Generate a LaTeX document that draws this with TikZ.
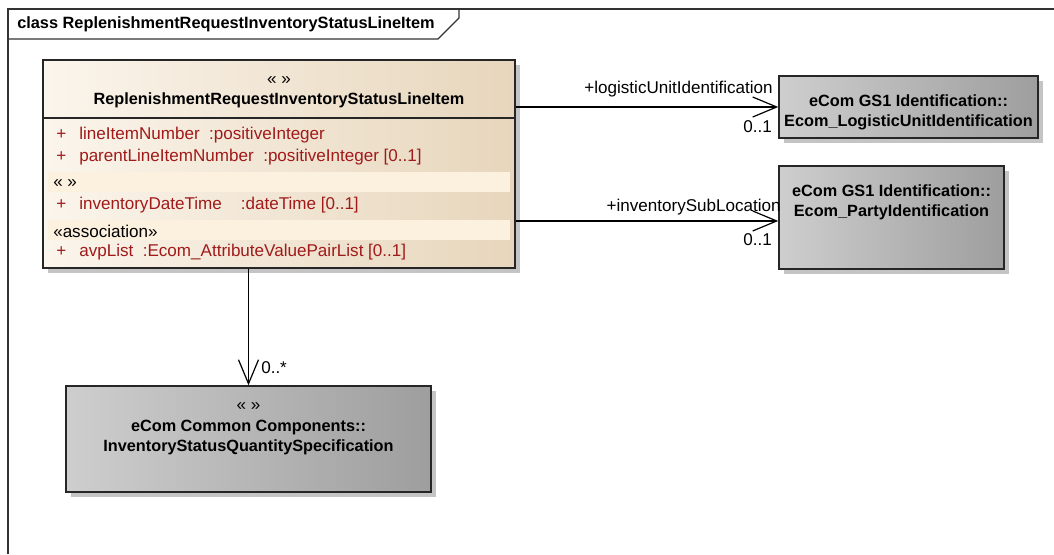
\documentclass[tikz,border=0pt]{standalone}
\usepackage{fontspec}
\setmainfont{Liberation Sans}
\usetikzlibrary{arrows.meta,shadows}
\definecolor{classL}{RGB}{251,245,236}
\definecolor{classR}{RGB}{231,214,188}
\definecolor{bandc}{RGB}{252,240,222}
\definecolor{greyL}{RGB}{206,206,206}
\definecolor{greyR}{RGB}{158,158,158}
\definecolor{attrc}{RGB}{160,26,26}
\definecolor{shadowc}{RGB}{196,196,196}
\tikzstyle{classbox}=[rectangle,draw=black!85,line width=1.1pt,inner sep=0pt,left color=classL,right color=classR,drop shadow={shadow xshift=3.75pt,shadow yshift=-3.75pt,fill=shadowc,opacity=1}]
\tikzstyle{refbox}=[rectangle,draw=black!85,line width=1.1pt,inner sep=0pt,left color=greyL,right color=greyR,drop shadow={shadow xshift=3.75pt,shadow yshift=-3.75pt,fill=shadowc,opacity=1}]
\tikzstyle{attr}=[anchor=west,inner sep=0pt,text=attrc,font=\fontsize{12.8}{15}\selectfont]
\tikzstyle{plain}=[anchor=west,inner sep=0pt,font=\fontsize{12.8}{15}\selectfont]
\tikzstyle{boxtext}=[inner sep=0pt,align=center,font=\bfseries\fontsize{12.2}{15}\selectfont]
\tikzstyle{role}=[inner sep=0pt,font=\fontsize{12.8}{15}\selectfont]
\tikzstyle{assoc}=[line width=0.9pt,-{Straight Barb[length=18pt,width=15pt]}]

\begin{document}
\begin{tikzpicture}[x=0.75pt,y=-0.75pt]
\useasboundingbox (0,0) rectangle (1054,554);
% frame and its tab
\draw[line width=0.9pt,black!80] (8,554) -- (8,9) -- (1054,9);
\draw[line width=0.9pt,black!80] (8,39) -- (438,39) -- (459,18) -- (459,9);
\node[plain,font=\bfseries\fontsize{12.25}{15}\selectfont] (title) at (17,24) {class ReplenishmentRequestInventoryStatusLineItem};

% main class
\node[classbox,minimum width=354pt,minimum height=156pt] (cls) at (279,164) {};
\draw[line width=1.1pt,black!85] (43,118) -- (515,118);
\fill[bandc] (48,172) rectangle (510,192);
\fill[bandc] (48,220) rectangle (510,240);
\node[role] (clsst) at (279,81) {« »};
\node[boxtext] (clsnm) at (279,100) {ReplenishmentRequestInventoryStatusLineItem};
\node[attr] (p1) at (56,135) {+};
\node[attr] (a1) at (79,135) {lineItemNumber\ \ :positiveInteger};
\node[attr] (p2) at (56,157) {+};
\node[attr] (a2) at (79,157) {parentLineItemNumber\ \ :positiveInteger [0..1]};
\node[plain] (s1) at (53,184) {« »};
\node[attr] (p3) at (56,205) {+};
\node[attr] (a3) at (79,205) {inventoryDateTime\ \ \ \ :dateTime [0..1]};
\node[plain] (s2) at (53,231) {«association»};
\node[attr] (p4) at (56,252) {+};
\node[attr] (a4) at (79,252) {avpList\ \ :Ecom\_AttributeValuePairList [0..1]};

% referenced classes
\node[refbox,minimum width=194.25pt,minimum height=46.5pt] (lui) at (908.5,107) {};
\node[boxtext] (luitxt) at (908.5,112) {eCom GS1 Identification::\\Ecom\_LogisticUnitIdentification};
\node[refbox,minimum width=168.75pt,minimum height=77.25pt] (pid) at (891.5,217.5) {};
\node[boxtext] (pidtxt) at (891.5,202) {eCom GS1 Identification::\\Ecom\_PartyIdentification};
\node[refbox,minimum width=273.75pt,minimum height=79.5pt] (isqs) at (248.5,439) {};
\node[role] (isqsst) at (248.5,407) {« »};
\node[boxtext] (isqstxt) at (248.5,437.5) {eCom Common Components::\\InventoryStatusQuantitySpecification};

% associations
\coordinate (pidin) at ([yshift=-2.6pt]pid.west);
\draw[assoc] (cls.east |- lui.west) -- (lui.west);
\draw[assoc] (cls.east |- pidin) -- (pidin);
\draw[assoc] (cls.south -| isqs.north) -- (isqs.north);
\node[role,anchor=east] (r1) at (773,89) {+logisticUnitIdentification};
\node[role,anchor=east] (m1) at (772,127) {0..1};
\node[role,anchor=east] (r2) at (781,207) {+inventorySubLocation};
\node[role,anchor=east] (m2) at (772,240) {0..1};
\node[role,anchor=west] (m3) at (261,368) {0..*};
\end{tikzpicture}
\end{document}
